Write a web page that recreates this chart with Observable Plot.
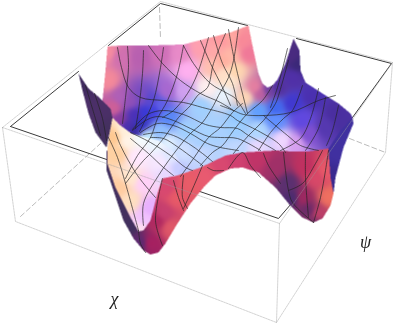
<!DOCTYPE html>
<html><head><meta charset="utf-8">
<script src="https://cdn.jsdelivr.net/npm/d3@7"></script>
<script src="https://cdn.jsdelivr.net/npm/@observablehq/plot@0.6"></script>
<style>html,body{margin:0;padding:0;background:#fff}svg{display:block;filter:blur(.35px)}</style>
</head><body><div id="chart"></div>
<script>
// sheet outlines
const mainOutline=[[107,46],[120,45],[150,45],[183,44],[210,37],[230,32],[248,25],[253,50],[258,73],[262,83],[267,87],[272,85],[277,79],[285,63],[293,38],[299,50],[300,70],[305,82],[322,93],[338,103],[350,113],[352,117],[340,135],[328,148],[308,151],[292,151],[275,150],[242,152],[225,155],[200,167],[177,175],[162,178],[157,193],[150,220],[143,230],[138,231],[130,217],[115,187],[107,163],[107,147],[110,128],[112,117],[106,112],[102,100],[105,70]];
const creamOutline=[[112,117],[120,125],[131,133],[145,137],[158,140],[172,150],[182,165],[177,175],[162,178],[157,193],[150,220],[143,230],[138,231],[130,217],[115,187],[107,163],[107,147],[110,128]];
const underOutline=[[106,150],[106,170],[112,187],[123,220],[133,238],[143,250],[150,254],[158,252],[165,243],[177,223],[190,203],[203,187],[215,175],[230,168],[242,167],[258,172],[275,187],[288,203],[302,217],[313,222],[322,218],[330,205],[333,193],[330,177],[328,146],[300,146],[230,150],[165,170],[150,190]];
const flapOutline=[[78,73],[88,88],[100,98],[110,108],[112,117],[110,128],[106,147],[95,132],[88,113],[82,90]];
const strapOutline=[[328,148],[340,130],[352,117],[353,123],[343,147],[335,177],[333,193],[330,177]];
const mainColors=[[107,52,"#f68da0"],[108,80,"#f58a9a"],[120,57,"#d070b0"],[140,57,"#b860b0"],[160,53,"#d070b8"],[180,53,"#e88ac8"],[200,47,"#ffa0b0"],[220,40,"#ff9aa0"],[215,50,"#ffa8a8"],[230,55,"#ffb8a8"],[222,75,"#ffe0c8"],[120,97,"#b060b8"],[113,107,"#d06098"],[120,120,"#8a3ea0"],[127,125,"#4a30b0"],[140,97,"#7a4cc0"],[130,100,"#9050b8"],[150,100,"#5a48d0"],[145,112,"#3838d8"],[135,115,"#4a30b8"],[160,105,"#6060e8"],[153,110,"#4040e0"],[140,123,"#3030c0"],[133,130,"#3a2aa0"],[167,90,"#a868d0"],[187,70,"#ffb0f0"],[183,90,"#d0a0f0"],[207,87,"#fff0f0"],[213,67,"#ffc0b0"],[223,60,"#ffb0a0"],[223,93,"#e8f4ff"],[200,107,"#a0d0ff"],[167,117,"#5888f8"],[160,130,"#90c0ff"],[147,137,"#c8ecff"],[187,130,"#a0d0ff"],[232,37,"#ffa8a0"],[242,40,"#f88898"],[248,53,"#f07898"],[235,70,"#ffd8b0"],[228,80,"#ffe8d0"],[245,97,"#ffd8b8"],[255,87,"#e880a0"],[260,93,"#c060a0"],[268,90,"#7040a0"],[278,87,"#5030a0"],[292,57,"#4a2a80"],[297,63,"#3a2878"],[292,77,"#5030a8"],[258,110,"#60a0ff"],[275,107,"#4068f0"],[292,103,"#4038d0"],[312,97,"#4a30b0"],[335,113,"#4a2ea0"],[238,117,"#90c8ff"],[235,127,"#a0d0ff"],[258,130,"#b0d8ff"],[282,140,"#f0d8ff"],[295,143,"#d8a0f0"],[308,133,"#8050d0"],[325,127,"#5538b0"],[342,123,"#4a30a0"],[302,120,"#6048e0"],[275,120,"#6090ff"],[258,147,"#e8d8ff"],[235,150,"#c0d8ff"],[210,130,"#a8d4ff"],[200,150,"#c8d8ff"],[183,150,"#d0e0ff"],[200,143,"#a8d0ff"],[217,130,"#a8d0ff"],[167,143,"#e0f0ff"],[177,170,"#c0c8ff"]];
const creamColors=[[125,130,"#fff0dc"],[140,137,"#f4fcff"],[155,143,"#ecf6ff"],[170,155,"#e0e8ff"],[178,168,"#c8ccff"],[165,172,"#e8d8ff"],[160,163,"#f8e8ff"],[127,140,"#fff4e8"],[117,153,"#ffd0a0"],[113,137,"#ffc890"],[130,177,"#ffe8d0"],[143,183,"#ffd0f8"],[150,207,"#e8b0ff"],[143,220,"#f0c0ff"],[130,200,"#ffe0c0"],[120,187,"#ffcca0"],[140,227,"#ffe0f0"],[137,157,"#ffe8ff"]];
const underColors=[[167,187,"#d84870"],[163,213,"#c84070"],[150,243,"#a82060"],[140,243,"#5a2a70"],[130,225,"#42305e"],[110,175,"#42305e"],[120,205,"#42305e"],[157,220,"#b02860"],[170,227,"#e05868"],[177,197,"#e85a68"],[190,183,"#e85c68"],[203,177,"#e85a70"],[223,163,"#d84870"],[235,160,"#d04070"],[258,157,"#c03468"],[275,167,"#a03068"],[288,183,"#5a3070"],[305,167,"#c03060"],[302,197,"#a02860"],[292,197,"#4a2c70"],[308,210,"#6a2a68"],[318,213,"#c04068"],[328,197,"#f07060"],[325,170,"#e85868"],[315,177,"#d84868"],[313,222,"#803068"]];
const flapColors=[[80,76,"#3f2a5e"],[95,110,"#4b2f68"],[105,135,"#44305f"]];
const strapColors=[[340,150,"#4030a0"],[334,180,"#3a2a90"]];
// mesh lines
const meshLines=[
[[117,47],[121,67],[128,87],[140,97],[163,100],[183,102],[202,107],[230,115],[237,120],[257,130],[278,143],[285,152]],
[[220,105],[233,110],[243,114],[263,115],[290,112],[318,100],[335,95]],
[[132,129],[147,114],[163,110],[183,114],[205,124],[220,127],[237,128],[248,135],[263,143],[275,150]],
[[132,130],[147,119],[158,116],[173,120],[190,128],[208,136],[220,137],[237,138],[260,150]],
[[140,132],[157,123],[173,125],[190,133],[207,143],[220,147],[238,150]],
[[143,134],[160,132],[173,135],[188,143],[202,153],[212,161]],
[[150,137],[163,138],[178,147],[193,158],[202,165]],
[[130,132],[150,142],[170,155],[185,167],[192,170]],
[[130,138],[148,153],[163,167],[173,175]],
[[263,115],[287,135],[300,145],[318,150]],
[[127,46],[128,67],[125,97],[122,123]],
[[143,50],[142,73],[138,110],[135,128]],
[[163,47],[160,67],[153,100],[143,123],[139,131]],
[[183,45],[177,73],[167,100],[157,118],[150,137],[137,155],[125,178]],
[[208,37],[197,73],[187,93],[173,110],[162,117]],
[[125,183],[143,160],[150,153],[163,138],[178,117],[190,105],[197,95],[207,87],[213,63],[225,33]],
[[143,225],[143,203],[158,175],[178,147],[190,133],[202,122],[213,105],[218,95],[228,77],[233,60],[238,27]],
[[180,176],[193,158],[208,137],[220,127],[232,112],[242,103]],
[[200,165],[212,152],[222,145],[233,130],[247,113],[262,100],[272,85]],
[[148,45],[162,63],[180,80],[200,93],[220,102],[233,110]],
[[183,45],[193,63],[210,83],[227,93],[235,98],[245,113]],
[[200,40],[210,63],[222,87],[230,105]],
[[213,35],[222,63],[232,83],[237,105]],
[[228,29],[234,60],[240,85],[245,105],[247,113]],
[[233,153],[248,135],[263,120],[275,103],[278,95],[288,60]],
[[258,150],[270,132],[283,118],[292,110],[302,85]],
[[280,150],[300,138],[310,118],[318,88]],
[[305,150],[318,128],[325,97]],
[[326,145],[332,130],[338,105]],
[[270,107],[277,87],[287,48]],
[[228,168],[242,152],[250,165],[260,177]],
[[263,153],[268,165],[280,183]],
[[283,152],[285,170],[288,190],[292,202],[313,222]],
[[305,152],[305,177],[308,217]],
[[288,190],[302,183],[315,163],[322,150]],
[[313,222],[320,197],[325,170],[328,150]],
[[173,180],[178,197],[183,210]],
[[183,175],[182,197],[187,208]],
[[202,165],[197,177],[190,193],[183,208]],
[[162,178],[155,220],[162,245]],
[[138,230],[140,243],[145,252]],
[[207,167],[213,170],[223,170]],
[[108,137],[117,157],[125,183],[138,230]],
[[115,132],[120,145],[137,175],[155,197]],
[[85,85],[94,115],[100,135]],
[[94,93],[102,118],[106,140]]
];
const darkEdges=[[[10,126],[78,71]],[[108,45],[160,3],[247,25]],[[296,38],[391,63],[352,117]],[[10,126],[278,218],[291,203]]];
const backBoxEdges=[[[159,7],[160,38]],[[20,216],[100,143]],[[349,138],[385,152]]];
const lightBoxEdges=[[[2,127],[160,1],[392,62],[279,223],[2,127]],[[2,127],[15,221],[276,322],[385,152],[392,62]],[[279,223],[276,322]]];
const axisLabels=[{t:"χ",x:114,y:299},{t:"ψ",x:365,y:242}];

const regions=[[flapOutline,flapColors],[strapOutline,strapColors],[creamOutline,creamColors],[mainOutline,mainColors],[underOutline,underColors]]
  .map(([poly,samples])=>({poly,samples:samples.map(([x,y,c])=>{const k=d3.rgb(c);return {x,y,r:k.r,g:k.g,b:k.b}}),
    x0:d3.min(poly,p=>p[0]),x1:d3.max(poly,p=>p[0]),y0:d3.min(poly,p=>p[1]),y1:d3.max(poly,p=>p[1])}));
function shade(x,y){
  for(const R of regions){
    if(x<R.x0||x>R.x1||y<R.y0||y>R.y1||!d3.polygonContains(R.poly,[x,y])) continue;
    let w=0,r=0,g=0,b=0;
    for(const s of R.samples){const d=(s.x-x)**2+(s.y-y)**2+25,q=1/(d*d);w+=q;r+=q*s.r;g+=q*s.g;b+=q*s.b;}
    return `rgb(${Math.round(r/w)},${Math.round(g/w)},${Math.round(b/w)})`;
  }
  return null;
}
const rows=(lines)=>lines.flatMap((l,i)=>l.map(p=>({x:p[0],y:p[1],id:i})));
const plot=Plot.plot({width:399,height:323,margin:0,
  x:{domain:[0,399],range:[0,399],axis:null},y:{domain:[0,323],range:[0,323],axis:null},color:{type:"identity"},
  marks:[
    Plot.line(rows(backBoxEdges),{x:"x",y:"y",z:"id",stroke:"#bbb",strokeWidth:1,strokeDasharray:"5,3"}),
    Plot.line(rows(darkEdges),{x:"x",y:"y",z:"id",stroke:"#3a3a3a",strokeWidth:1}),
    Plot.raster({fill:shade,x1:0,x2:399,y1:0,y2:323,pixelSize:.5}),
    Plot.line(rows(meshLines),{x:"x",y:"y",z:"id",stroke:"#222",strokeWidth:.8,strokeOpacity:.85,curve:"catmull-rom"}),
    Plot.line(rows(lightBoxEdges),{x:"x",y:"y",z:"id",stroke:"#999",strokeWidth:.8,strokeOpacity:.55,strokeDasharray:"2,1"}),
    Plot.text(axisLabels,{x:"x",y:"y",text:"t",fontFamily:"Liberation Serif",fontStyle:"italic",fontSize:18,fill:"#222"})
  ]});
document.getElementById("chart").append(plot);
</script></body></html>
